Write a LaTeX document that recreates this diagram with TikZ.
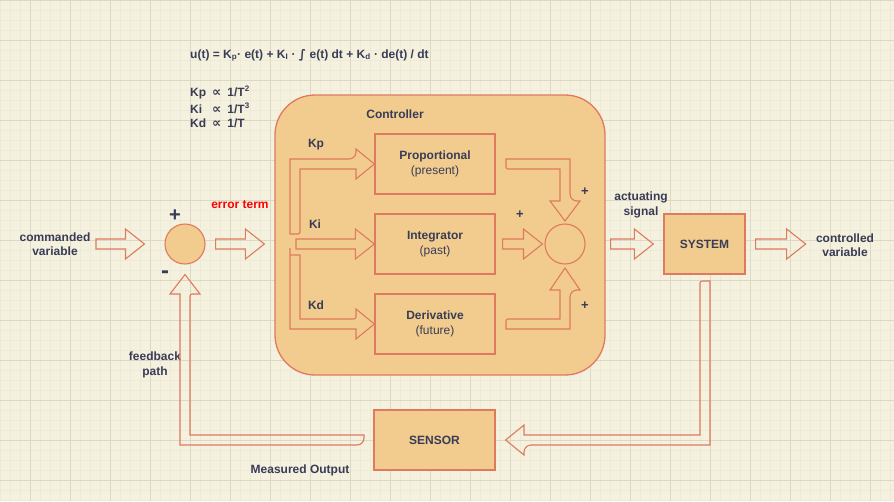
\documentclass[tikz,border=0pt]{standalone}
\usepackage{fontspec}
\setmainfont{Liberation Sans}
\newfontfamily\symbfont{DejaVu Sans}
\usetikzlibrary{calc,positioning}
\definecolor{paper}{HTML}{F4F1DE}
\definecolor{minorline}{HTML}{EEEAD7}
\definecolor{majorline}{HTML}{DCD8C3}
\definecolor{boxfill}{HTML}{F2CC8F}
\definecolor{boxline}{HTML}{E07A5F}
\definecolor{ink}{HTML}{393C56}
\definecolor{errred}{HTML}{FF0000}
\newcommand{\dfont}{\fontsize{12}{14.5}\selectfont}
\tikzset{
  ctrlbox/.style={draw=boxline, fill=boxfill, line width=1.3pt, rounded corners=40pt,
    minimum width=330pt, minimum height=280pt, inner sep=0pt},
  blk/.style={draw=boxline, fill=boxfill, line width=1.3pt, minimum width=120pt,
    minimum height=60pt, inner sep=0pt, font=\dfont, text=ink, align=center},
  sumnode/.style={circle, draw=boxline, fill=boxfill, line width=1.1pt,
    minimum size=40pt, inner sep=0pt},
  lbl/.style={font=\dfont\bfseries, text=ink, inner sep=0pt, align=center},
  sgn/.style={font=\fontsize{20}{20}\selectfont\bfseries, text=ink, inner sep=0pt},
  sgnsm/.style={font=\fontsize{13}{13}\selectfont\bfseries, text=ink, inner sep=0pt},
  flexar/.style={draw=boxline, line width=1.1pt},
  gridmin/.style={draw=minorline, line width=1pt},
  gridmaj/.style={draw=majorline, line width=0.8pt},
}
% straight block arrow, tail #1 -> tip #2 (same height as the tail)
\newcommand{\FlexH}[2]{%
  \draw[flexar] let \p1=#1, \p2=#2, \n1={sign(\x2-\x1)} in
    (\x1,\y1-5pt) -- ({\x2-19pt*\n1},\y1-5pt) -- ({\x2-19pt*\n1},\y1-15pt)
    -- (\x2,\y1) -- ({\x2-19pt*\n1},\y1+15pt) -- ({\x2-19pt*\n1},\y1+5pt)
    -- (\x1,\y1+5pt) -- cycle;%
}
\begin{document}
\begin{tikzpicture}[x=1pt, y=-1pt]
  \fill[paper] (0,0) rectangle (894,501);
  \useasboundingbox (0,0) rectangle (894,501);
  \foreach \gx in {0,10,...,890} \draw[gridmin] (\gx,0) -- (\gx,501);
  \foreach \gy in {0,10,...,500} \draw[gridmin] (0,\gy) -- (894,\gy);
  \foreach \gx in {30,70,...,870} \draw[gridmaj] (\gx,0) -- (\gx,501);
  \foreach \gy in {0,40,...,480} \draw[gridmaj] (0,\gy) -- (894,\gy);

  % control law
  \node[lbl, anchor=base west] (law) at (190,58)
    {u(t) = K\textsubscript{p}· e(t) + K\textsubscript{I} · {\symbfont ∫} e(t) dt + K\textsubscript{d} · de(t) / dt};
  \foreach \kn/\pw/\yy [count=\i] in {Kp/2/96, Ki/3/113, Kd//127} {
    \node[lbl, anchor=base west] (gk\i) at (190,\yy) {\kn};
    \node[lbl, anchor=base west] (gp\i) at (212,\yy)
      {{\symbfont\fontsize{13}{13}\selectfont ∝}\enspace 1/T\textsuperscript{\pw}};
  }

  % controller
  \node[ctrlbox] (ctrl) at (440,235) {};
  \node[lbl] (ctrlT) at (395,114) {Controller};
  \node[blk] (prop) at (435,164) {{\bfseries Proportional}\\(present)};
  \node[blk] (integ) at (435,244) {{\bfseries Integrator}\\(past)};
  \node[blk] (deriv) at (435,324) {{\bfseries Derivative}\\(future)};
  \node[sumnode] (sumC) at (565,244) {};
  \node[lbl] (kpL) at (316,145) {Kp};
  \node[lbl] (kiL) at (315,224) {Ki};
  \node[lbl] (kdL) at (316,305) {Kd};
  \node[sgnsm] (pl1) at (585,192) {+};
  \node[sgnsm] (pl2) at (520,215) {+};
  \node[sgnsm] (pl3) at (585,306) {+};

  % branches
  \draw[flexar] (290,234) -- (290,159) [rounded corners=7pt] -- (356,159) [sharp corners]
    -- (356,149) -- (prop.west) -- (356,179) -- (356,169) -- (300,169) [rounded corners=2pt]
    -- (300,234) [sharp corners] -- cycle;
  \FlexH{(296,244)}{(integ.west)}
  \draw[flexar] (290,255) -- (300,255) -- (300,319) [rounded corners=2pt] -- (356,319)
    [sharp corners] -- (356,309) -- (deriv.west) -- (356,339) -- (356,329)
    -- (290,329) [rounded corners=7pt] -- (290,255) [sharp corners] -- cycle;

  % into the sum
  \draw[flexar] (506,159) -- (570,159) [rounded corners=7pt] -- (570,201) [sharp corners]
    -- (580,201) -- (565,221) -- (550,201) -- (560,201) -- (560,169) [rounded corners=2pt]
    -- (506,169) [sharp corners] -- cycle;
  \FlexH{($(integ.east)+(7,0)$)}{($(sumC.west)+(-2,0)$)}
  \draw[flexar] (506,329) -- (570,329) [rounded corners=7pt] -- (570,290) [sharp corners]
    -- (580,290) -- (565,268) -- (550,290) -- (560,290) -- (560,319) [rounded corners=2pt]
    -- (506,319) [sharp corners] -- cycle;

  % outer loop
  \node[lbl] (cmd) at (55,244) {commanded\\variable};
  \node[sumnode] (sumL) at (185,244) {};
  \node[sgn] (plusL) at (175,216) {+};
  \node[sgn, font=\fontsize{24}{24}\selectfont\bfseries] (minusL) at (165,275) {-};
  \node[lbl, text=errred] (err) at (240,205) {error term};
  \FlexH{(96,244)}{($(sumL.west)+(-20,0)$)}
  \FlexH{($(sumL.east)+(10,0)$)}{($(ctrl.west)+(-10,0)$)}

  \node[blk, minimum width=81pt] (sys) at (704.5,244) {\bfseries SYSTEM};
  \node[lbl] (act) at (641,205) {actuating\\signal};
  \node[lbl] (out) at (845,245) {controlled\\variable};
  \FlexH{($(sumC.east)+(25,0)$)}{($(sys.west)+(-10,0)$)}
  \FlexH{($(sys.east)+(10,0)$)}{($(sys.east)+(60,0)$)}

  \node[blk, minimum width=121pt] (sens) at (434.5,440) {\bfseries SENSOR};
  \node[lbl] (meas) at (300,470) {Measured Output};
  \node[lbl] (fb) at (155,365) {feedback\\path};
  \draw[flexar] (700,281) -- (710,281) -- (710,445) [rounded corners=7pt] -- (524,445)
    [sharp corners] -- (524,455) -- ($(sens.east)+(10,0)$) -- (524,425) -- (524,435)
    -- (700,435) [rounded corners=2pt] -- cycle;
  \draw[flexar] (364,435) -- (190,435) [rounded corners=2pt] -- (190,294) [sharp corners]
    -- (200,294) -- ($(sumL.south)+(0,10)$) -- (170,294) -- (180,294)
    -- (180,445) [rounded corners=7pt] -- (364,445) [sharp corners] -- cycle;
\end{tikzpicture}
\end{document}
